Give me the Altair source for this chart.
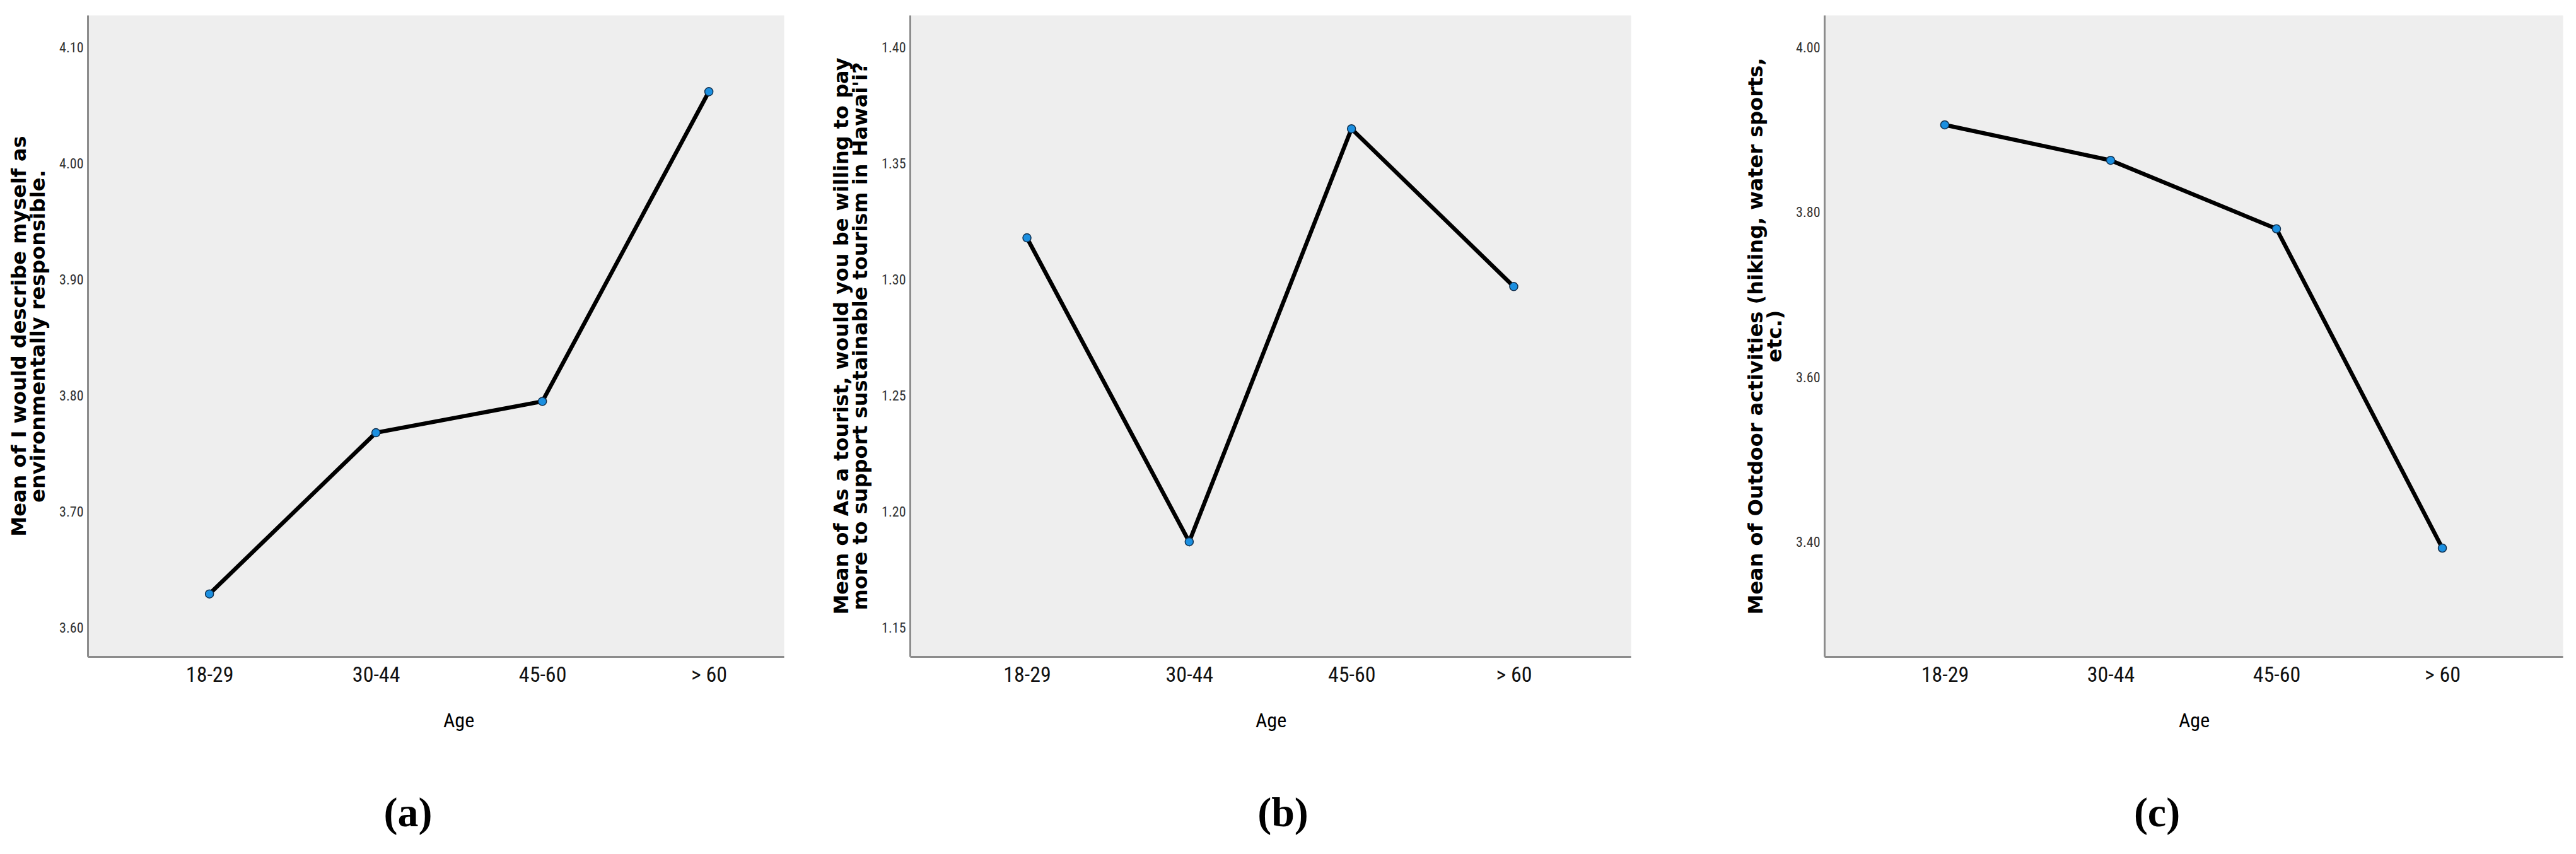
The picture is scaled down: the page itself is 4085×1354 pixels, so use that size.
import altair as alt
import pandas as pd

# ---- data ----
age_groups = ["18-29", "30-44", "45-60", "> 60"]

env_responsible = [3.629, 3.768, 3.795, 4.062]
pay_more = [1.318, 1.187, 1.365, 1.297]
outdoor = [3.906, 3.863, 3.780, 3.393]

title_a = ["Mean of I would describe myself as", "environmentally responsible."]
title_b = ["Mean of As a tourist, would you be willing to pay",
           "more to support sustainable tourism in Hawai'i?"]
title_c = ["Mean of Outdoor activities (hiking, water sports,", "etc.)"]

ticks_a = [3.6, 3.7, 3.8, 3.9, 4.0, 4.1]
ticks_b = [1.15, 1.20, 1.25, 1.30, 1.35, 1.40]
ticks_c = [3.4, 3.6, 3.8, 4.0]

domain_a = [3.575, 4.128]
domain_b = [1.1375, 1.414]
domain_c = [3.2615, 4.039]

tags = ["(a)", "(b)", "(c)"]

# ---- styling ----
H = 1017
LABEL_FONT = "Liberation Sans Narrow, Roboto Condensed, Liberation Sans"
TITLE_FONT = "DejaVu Sans"
BG = "#EEEEEE"


def panel(values, ytitle, domain, ticks, width, pad, align, tag, tag_dx, title_x):
    df = pd.DataFrame({"Age": age_groups, "Mean": values})
    x = alt.X(
        "Age:N", sort=age_groups, title="Age",
        scale=alt.Scale(type="point", padding=pad, align=align),
        axis=alt.Axis(labelAngle=0, titleX=title_x),
    )
    y = alt.Y(
        "Mean:Q", title=ytitle,
        scale=alt.Scale(domain=domain, zero=False, nice=False),
        axis=alt.Axis(values=ticks, format=".2f"),
    )
    base = alt.Chart(df).encode(x=x, y=y)
    line = base.mark_line(color="black", strokeWidth=6.5)
    pts = base.mark_circle(size=170, fill="#1b8fe0", stroke="#10304f",
                           strokeWidth=1.5, opacity=1)
    return alt.layer(line, pts).properties(
        width=width, height=H,
        view=alt.ViewBackground(fill=BG, stroke="transparent"),
        title=alt.TitleParams(tag, orient="bottom", anchor="middle", frame="group",
                              dx=tag_dx, offset=100, font="Liberation Serif",
                              fontWeight="bold", fontSize=66, color="black"),
    )


def spacer(w):
    df = pd.DataFrame({"s": [0]})
    return alt.Chart(df).mark_point(opacity=0).encode(
        x=alt.X("s:Q", axis=None), y=alt.Y("s:Q", axis=None)
    ).properties(width=w, height=H)


pa = panel(env_responsible, title_a, domain_a, ticks_a, 1104, 0.591, 0.619, tags[0], -44, 588)
pb = panel(pay_more, title_b, domain_b, ticks_b, 1143, 0.721, 0.5, tags[1], 20, 572)
pc = panel(outdoor, title_c, domain_c, ticks_c, 1171, 0.726, 0.5, tags[2], -58, 586)

chart = alt.hconcat(
    pa, spacer(10), pb, spacer(117), pc, spacing=95, bounds="flush"
).properties(
    padding={"left": 6, "top": 15, "right": 5, "bottom": 5}
).configure_view(
    stroke="transparent"
).configure_axis(
    grid=False, ticks=False, domainColor="#8c8c8c", domainWidth=3,
).configure_axisY(
    labelFont=LABEL_FONT, labelFontSize=22, labelColor="#333333", labelPadding=7,
    titleFont=TITLE_FONT, titleFontWeight="bold", titleFontSize=32,
    titleLineHeight=30, titleColor="black", titlePadding=16,
).configure_axisX(
    labelFont=LABEL_FONT, labelFontSize=34, labelColor="#111111", labelPadding=12,
    titleFont=LABEL_FONT, titleFontSize=32, titleFontWeight="normal",
    titleColor="black", titlePadding=40,
)

chart.save("out.html", embed_options={"renderer": "svg", "actions": False})
